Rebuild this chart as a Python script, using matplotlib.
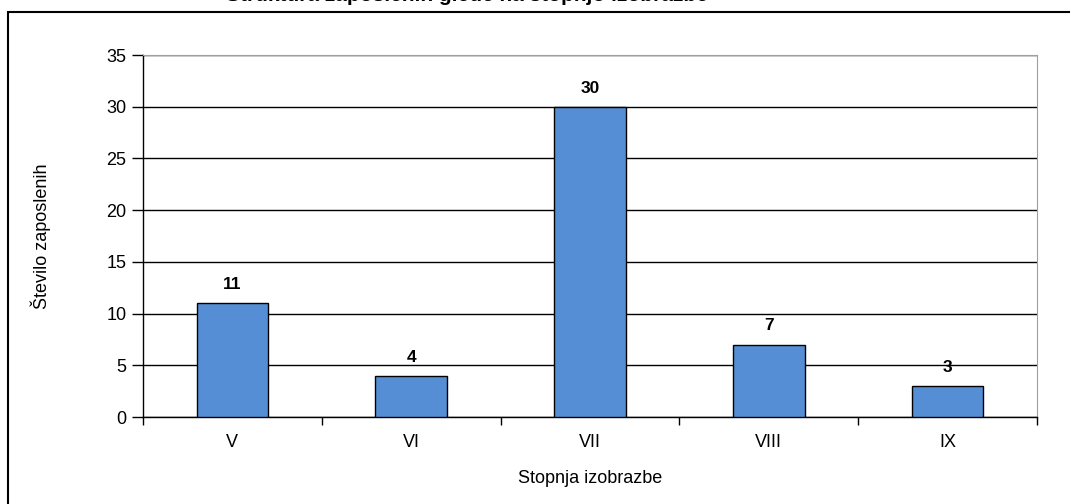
import matplotlib.pyplot as plt
from matplotlib.patches import Rectangle

plt.rcParams['font.family'] = ['Liberation Sans', 'DejaVu Sans']

stopnje = ['V', 'VI', 'VII', 'VIII', 'IX']
zaposleni = [11, 4, 30, 7, 3]
naslov = 'Struktura zaposlenih glede na stopnjo izobrazbe'

fig = plt.figure(figsize=(10.7, 5.04), dpi=100)
ax = fig.add_axes([143 / 1070, 1 - 417 / 504, (1037 - 143) / 1070, (417 - 55) / 504])

# okvir grafikona (odrezan desno in spodaj)
fig.patches.append(Rectangle((8 / 1070, -0.1), 1.2, 1 - 12 / 504 + 0.1,
                             transform=fig.transFigure, fill=False,
                             edgecolor='black', linewidth=1.5))
# naslov, kot v izvirniku vecinoma odrezan na vrhu
fig.text(467 / 1070, 1 - 1 / 504, naslov, ha='center', va='baseline',
         fontsize=15, fontweight='bold')

x = list(range(len(stopnje)))
bars = ax.bar(x, zaposleni, width=0.4, color='#558ED5', edgecolor='black',
              linewidth=1, zorder=3)
for b, v in zip(bars, zaposleni):
    ax.annotate(str(v), (b.get_x() + b.get_width() / 2, v), xytext=(0, 8),
                textcoords='offset points', ha='center', va='bottom',
                fontsize=12.5, fontweight='bold')

ax.set_xlim(-0.5, len(stopnje) - 0.5)
ax.set_ylim(0, 35)
ax.set_yticks(range(0, 36, 5))
ax.yaxis.grid(True, color='black', linewidth=1, zorder=0)
ax.set_xticks(x)
ax.set_xticklabels(stopnje)
ax.set_xticks([i - 0.5 for i in range(len(stopnje) + 1)], minor=True)
ax.tick_params(axis='x', which='major', length=0, pad=12, labelsize=13)
ax.tick_params(axis='x', which='minor', length=6, direction='out', width=1)
ax.tick_params(axis='y', length=8, direction='out', width=1, labelsize=13, pad=4)

for s in ['top', 'right']:
    ax.spines[s].set_color('#A0A0A0')
ax.spines['left'].set_linewidth(1)
ax.spines['bottom'].set_linewidth(1)

ax.set_xlabel('Stopnja izobrazbe', fontsize=13)
ax.set_ylabel('Število zaposlenih', fontsize=13)
ax.xaxis.set_label_coords(0.5, -(470 - 417) / (417 - 55))
ax.yaxis.set_label_coords(-(143 - 51) / (1037 - 143), 0.5)

fig.savefig('out.png', dpi=100)
